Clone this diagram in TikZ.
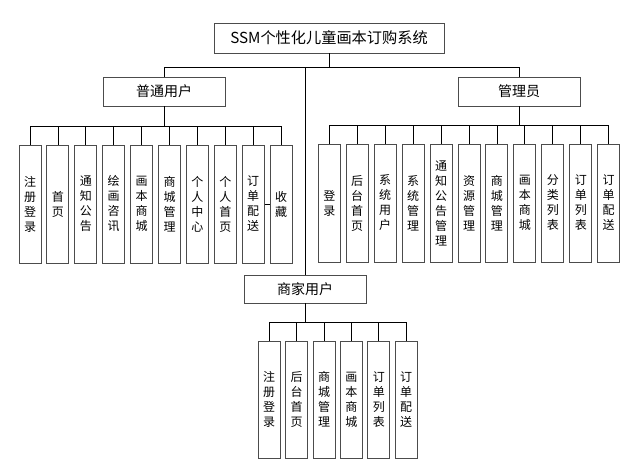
\documentclass[tikz,border=0pt]{standalone}
\usepackage{fontspec}
\setmainfont{Noto Sans CJK SC}
\begin{document}
\begin{tikzpicture}[x=1pt,y=-1pt,
  box/.style={draw=black!70, line width=0.9pt, fill=white, inner sep=0pt, font=\fontsize{14}{16}\selectfont},
  leaf/.style={draw=black!70, line width=0.9pt, minimum width=22pt, minimum height=118pt, inner sep=0pt, align=center, font=\fontsize{12}{15}\selectfont},
  conn/.style={draw=black, line width=0.8pt}]
\useasboundingbox (0,0) rectangle (637,467);

% top level
\node[box, minimum width=230pt, minimum height=30pt, font=\fontsize{15.2}{17}\selectfont] (root) at (329,38) {SSM个性化儿童画本订购系统};
\node[box, minimum width=122pt, minimum height=29pt] (pu) at (164,91.5) {普通用户};
\node[box, minimum width=122pt, minimum height=29pt] (ad) at (519,91.5) {管理员};
\node[box, minimum width=122pt, minimum height=28pt] (sj) at (305,289) {商家用户};

\coordinate (rbus) at (0,67);
\coordinate (ubus) at (0,126);
\coordinate (abus) at (0,125);
\coordinate (mbus) at (0,322);

\draw[conn] (root.south) -- (root.south |- rbus);
\draw[conn] (pu.north) |- (ad.north |- rbus) -- (ad.north);
\draw[conn] (sj.north) -- (sj.north |- rbus);

% normal user leaves
\foreach \t [count=\i from 0] in {{注\\册\\登\\录},{首\\页},{通\\知\\公\\告},{绘\\画\\咨\\讯},{画\\本\\商\\城},{商\\城\\管\\理},{个\\人\\中\\心},{个\\人\\首\\页},{订\\单\\配\\送},{收\\藏}}{
  \node[leaf] (u\i) at ({30+27.9*\i},204) {\t};
  \draw[conn] (u\i.north) -- (u\i.north |- ubus);
}
\draw[conn] (u0.north |- ubus) -- (u9.north |- ubus);
\draw[conn] (pu.south) -- (pu.south |- ubus);
\draw[conn] (u8.east) -- (u9.west);

% admin leaves
\foreach \t [count=\i from 0] in {{登\\录},{后\\台\\首\\页},{系\\统\\用\\户},{系\\统\\管\\理},{通\\知\\公\\告\\管\\理},{资\\源\\管\\理},{商\\城\\管\\理},{画\\本\\商\\城},{分\\类\\列\\表},{订\\单\\列\\表},{订\\单\\配\\送}}{
  \node[leaf] (a\i) at ({329.3+27.94*\i},203) {\t};
  \draw[conn] (a\i.north) -- (a\i.north |- abus);
}
\draw[conn] (a0.north |- abus) -- (a10.north |- abus);
\draw[conn] (ad.south) -- (ad.south |- abus);

% merchant leaves
\foreach \t [count=\i from 0] in {{注\\册\\登\\录},{后\\台\\首\\页},{商\\城\\管\\理},{画\\本\\商\\城},{订\\单\\列\\表},{订\\单\\配\\送}}{
  \node[leaf, minimum height=117pt] (m\i) at ({269.2+27.4*\i},399.5) {\t};
  \draw[conn] (m\i.north) -- (m\i.north |- mbus);
}
\draw[conn] (m0.north |- mbus) -- (m5.north |- mbus);
\draw[conn] (sj.south) -- (sj.south |- mbus);
\end{tikzpicture}
\end{document}
